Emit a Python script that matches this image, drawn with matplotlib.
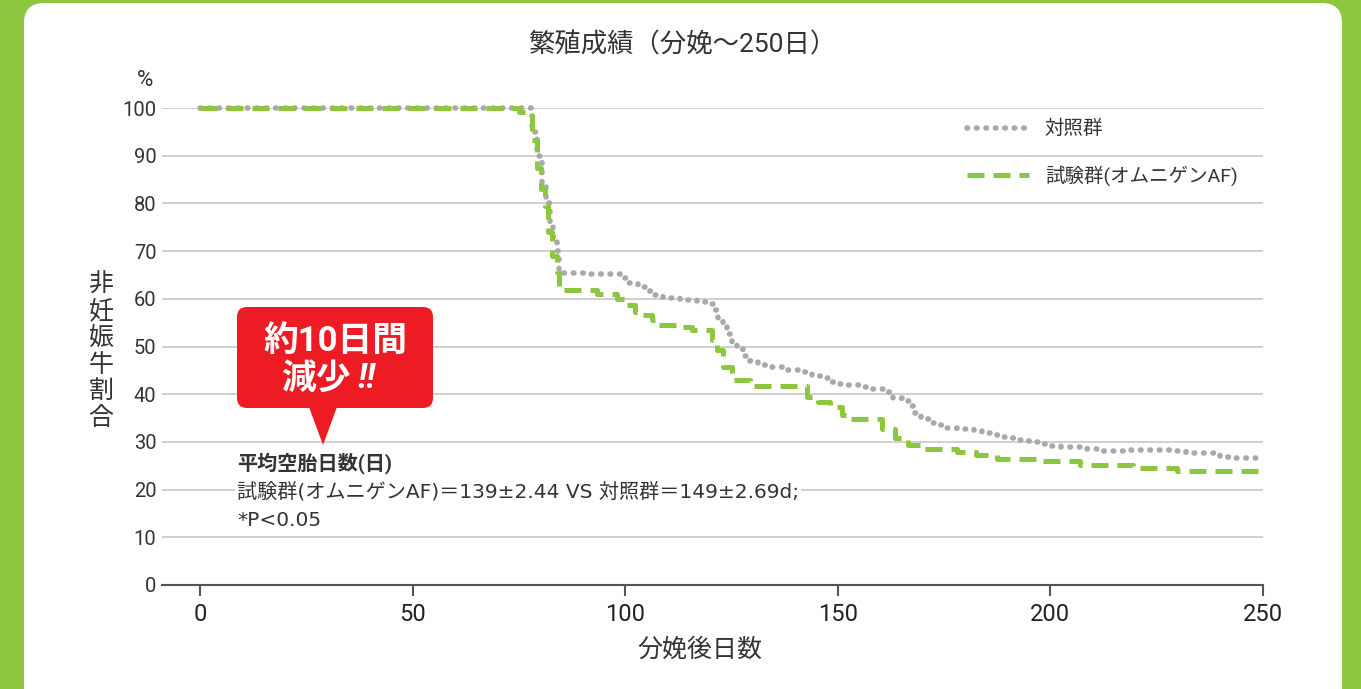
import matplotlib.pyplot as plt
from matplotlib.patches import FancyBboxPatch, Polygon

plt.rcParams['font.family'] = ['Roboto', 'Noto Sans CJK JP', 'DejaVu Sans']

# control group (grey dotted)
control_days = [0, 78, 79.3, 80.5, 81.3, 82.2, 83, 84, 84.4, 92, 99, 101, 103, 105, 107, 109, 113, 117, 119.5,
                120.7, 121.9, 123, 124, 125, 126.3, 127.8, 129.4, 131.3, 133.7, 137.8, 142, 144, 146, 148, 150,
                152, 155, 158, 161, 163, 165, 167, 168, 169.5, 171.5, 173.5, 175.5, 178, 182, 184, 186, 188,
                190, 192, 194, 196, 198, 200, 202.5, 206, 208.5, 211, 219, 229, 232, 240, 242, 250]
control_vals = [100, 95, 90, 84, 80, 76, 73, 70, 65.5, 65.2, 64.3, 63.4, 62.5, 61.6, 60.8, 60.1, 59.8, 59.4, 58.9,
                57.7, 55.7, 54.3, 52.7, 50.9, 49.5, 48.1, 46.9, 46.1, 45.6, 45.0, 44.6, 43.9, 43.4, 42.6, 42.2,
                41.9, 41.5, 41.0, 40.5, 39.1, 38.5, 37.5, 36.0, 34.9, 34.0, 33.5, 32.9, 32.6, 32.3, 31.9, 31.4, 31.1,
                30.8, 30.5, 30.2, 30.0, 29.6, 29.1, 28.9, 29.0, 28.6, 28.1, 28.2, 28.0, 27.7, 26.9, 26.6, 26.6]

# test group (green dashed)
test_days = [0, 75, 78, 79.2, 80.3, 81.1, 81.9, 82.7, 83.9, 84.5, 93.3, 98, 100.3, 102.3, 104.3, 106.2, 107,
             112.1, 115.6, 120.3, 121.7, 123, 125, 129.3, 142.7, 145.4, 148.2, 150.9, 152.5, 160.5, 163.5,
             166.6, 170.3, 178, 182.6, 187.5, 198.3, 207, 219.5, 229.7, 250]
test_vals = [100, 99.2, 93.3, 87.5, 83, 79.5, 74, 69, 65.6, 61.8, 61.0, 60.0, 58.7, 57.3, 56.6, 55.6, 54.5,
             54.0, 53.5, 51.4, 49.3, 45.8, 43.0, 41.7, 39.5, 38.4, 37.4, 35.6, 34.9, 32.8, 30.8,
             29.4, 28.6, 27.8, 27.3, 26.5, 25.9, 25.2, 24.5, 23.8, 23.8]

x_ticks = [0, 50, 100, 150, 200, 250]
y_ticks = list(range(0, 101, 10))

green = '#8DC63F'
grey = '#A7A9AC'

W, H = 1361, 689
fig = plt.figure(figsize=(W / 100, H / 100), dpi=100)
fig.patch.set_facecolor(green)

# white rounded panel
panel = FancyBboxPatch((0.24, -0.5), 13.18, 6.86 + 0.5, boxstyle='round,pad=0,rounding_size=0.2',
                       transform=fig.dpi_scale_trans, facecolor='white', edgecolor='none', zorder=-5)
fig.patches.append(panel)

ax = fig.add_axes([162 / W, 1 - 585 / H, (1263 - 162) / W, (585 - 108) / H])
ax.set_facecolor('none')
ax.set_xlim(-8.94, 250)
ax.set_ylim(0, 100)

ax.yaxis.grid(True, color='#C8C8C8', lw=1.2)
ax.set_axisbelow(True)
for s in ['top', 'right', 'left']:
    ax.spines[s].set_visible(False)
ax.spines['bottom'].set_color('#555555')
ax.spines['bottom'].set_linewidth(1.5)

ax.step(control_days, control_vals, where='post', color=grey, lw=4.0,
        linestyle=(0, (0.1, 1.6)), dash_capstyle='round', clip_on=False, label='対照群')
ax.step(test_days, test_vals, where='post', color=green, lw=3.6,
        linestyle=(0, (3.4, 1.8)), clip_on=False, label='試験群(オムニゲンAF)')

ax.set_xticks(x_ticks)
ax.set_yticks(y_ticks)
ax.tick_params(axis='x', length=8, width=1.5, color='#555555', pad=5, labelsize=17, labelcolor='#222222')
ax.tick_params(axis='y', length=0, pad=4, labelsize=14.5, labelcolor='#333333')

ax.legend(loc='upper left', bbox_to_anchor=(967 / W, 1 - 120 / H), bbox_transform=fig.transFigure,
          frameon=False, fontsize=14, handlelength=3.2, handletextpad=0.8, labelspacing=1.4,
          borderpad=0, borderaxespad=0, labelcolor='#333333')

fig.text(0.502, 1 - 45 / H, '繁殖成績（分娩〜250日）', ha='center', va='center', fontsize=19, color='#333333')
fig.text(145 / W, 1 - 80 / H, '%', ha='center', va='center', fontsize=16, color='#333333')
fig.text(700 / W, 1 - 650 / H, '分娩後日数', ha='center', va='center', fontsize=18, color='#333333')

ylabel = '非妊娠牛割合'
for i, ch in enumerate(ylabel):
    fig.text(101 / W, 1 - (285 + 26.6 * i) / H, ch, ha='center', va='center', fontsize=18, color='#333333')

# red callout
red = '#ED1C24'
box = FancyBboxPatch((2.37, 2.81), 1.96, 1.01, boxstyle='round,pad=0,rounding_size=0.1',
                     transform=fig.dpi_scale_trans, facecolor=red, edgecolor='none', zorder=3)
fig.patches.append(box)
tip = Polygon([(3.09, 2.82), (3.37, 2.82), (3.23, 2.44)], closed=True,
              transform=fig.dpi_scale_trans, facecolor=red, edgecolor='none', zorder=3)
fig.patches.append(tip)
fig.text(335 / W, 1 - 341 / H, '約10日間', ha='center', va='center', fontsize=25,
         color='white', fontweight='bold', zorder=4)
fig.text(316 / W, 1 - 379 / H, '減少', ha='center', va='center', fontsize=25,
         color='white', fontweight='bold', zorder=4)
fig.text(366 / W, 1 - 379 / H, '!!', ha='center', va='center', fontsize=25,
         color='white', fontweight='bold', style='italic', zorder=4)

note_lines = ['平均空胎日数(日)', '試験群(オムニゲンAF)＝139±2.44 VS 対照群＝149±2.69d;', '*P<0.05']
note_y = [463, 492, 520]
for i, (txt, yy) in enumerate(zip(note_lines, note_y)):
    fig.text(237 / W, 1 - yy / H, txt, ha='left', va='center', fontsize=14.5, color='#333333',
             family=['DejaVu Sans', 'Noto Sans CJK JP'] if i > 0 else None,
             fontweight='bold' if i == 0 else 'normal',
             bbox=dict(facecolor='white', edgecolor='none', pad=1.5), zorder=4)

fig.savefig('out.png', dpi=100, facecolor=fig.get_facecolor())
